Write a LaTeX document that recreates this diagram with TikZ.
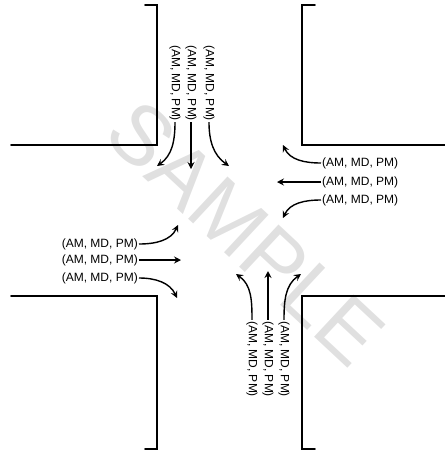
\documentclass[tikz,border=0pt]{standalone}
\usepackage{fontspec}
\setmainfont{Liberation Sans}
\usetikzlibrary{arrows.meta}
\begin{document}
\begin{tikzpicture}[x=1pt,y=-1pt,
  curb/.style={line width=1.8pt,line cap=round},
  lbl/.style={font=\fontsize{12}{14}\selectfont,inner sep=1pt},
  vlbl/.style={lbl,rotate=-90},
  mv/.style={line width=1.4pt,-{Stealth[length=7pt,width=7pt,inset=2.5pt]}},
  wm/.style={text=black!12,font=\fontsize{84}{90}\selectfont,rotate=-43}
]
\useasboundingbox (0,0) rectangle (445,451);
% watermark
\node[wm] (wmk) at (246,233) {SAMPLE};
% curbs
\draw[curb] (11,145) -- (157,145) -- (157,5) -- (145,5);
\draw[curb] (445,145) -- (302,145) -- (302,5) -- (315,5);
\draw[curb] (11,296) -- (157,296) -- (157,449) -- (145,449);
\draw[curb] (445,296) -- (302,296) -- (302,449) -- (315,449);
% top approach
\node[vlbl] (t1) at (175,83) {(AM, MD, PM)};
\node[vlbl] (t2) at (191,83) {(AM, MD, PM)};
\node[vlbl] (t3) at (209,83) {(AM, MD, PM)};
\coordinate (te1) at (157,166);
\coordinate (te2) at (191,169);
\coordinate (te3) at (229,166);
\draw[mv] (t1.east) to[out=-90,in=35] (te1);
\draw[mv] (t2.east) -- (te2);
\draw[mv] (t3.east) to[out=-90,in=145] (te3);
% right approach
\node[lbl,anchor=west] (r1) at (321,163) {(AM, MD, PM)};
\node[lbl,anchor=west] (r2) at (321,182) {(AM, MD, PM)};
\node[lbl,anchor=west] (r3) at (321,200) {(AM, MD, PM)};
\coordinate (re1) at (283,145);
\coordinate (re2) at (277,182);
\coordinate (re3) at (283,218);
\draw[mv] (r1.west) to[out=180,in=-65] (re1);
\draw[mv] (r2.west) -- (re2);
\draw[mv] (r3.west) to[out=180,in=65] (re3);
% left approach
\node[lbl,anchor=east] (l1) at (139,244) {(AM, MD, PM)};
\node[lbl,anchor=east] (l2) at (139,260) {(AM, MD, PM)};
\node[lbl,anchor=east] (l3) at (139,278) {(AM, MD, PM)};
\coordinate (le1) at (178,225);
\coordinate (le2) at (181,260);
\coordinate (le3) at (177,298);
\draw[mv] (l1.east) to[out=0,in=-115] (le1);
\draw[mv] (l2.east) -- (le2);
\draw[mv] (l3.east) to[out=0,in=115] (le3);
% bottom approach
\node[vlbl] (b1) at (252,359) {(AM, MD, PM)};
\node[vlbl] (b2) at (268,359) {(AM, MD, PM)};
\node[vlbl] (b3) at (284,359) {(AM, MD, PM)};
\coordinate (be1) at (236,274);
\coordinate (be2) at (268,271);
\coordinate (be3) at (301,274);
\draw[mv] (b1.west) to[out=90,in=-35] (be1);
\draw[mv] (b2.west) -- (be2);
\draw[mv] (b3.west) to[out=90,in=-145] (be3);
\end{tikzpicture}
\end{document}
